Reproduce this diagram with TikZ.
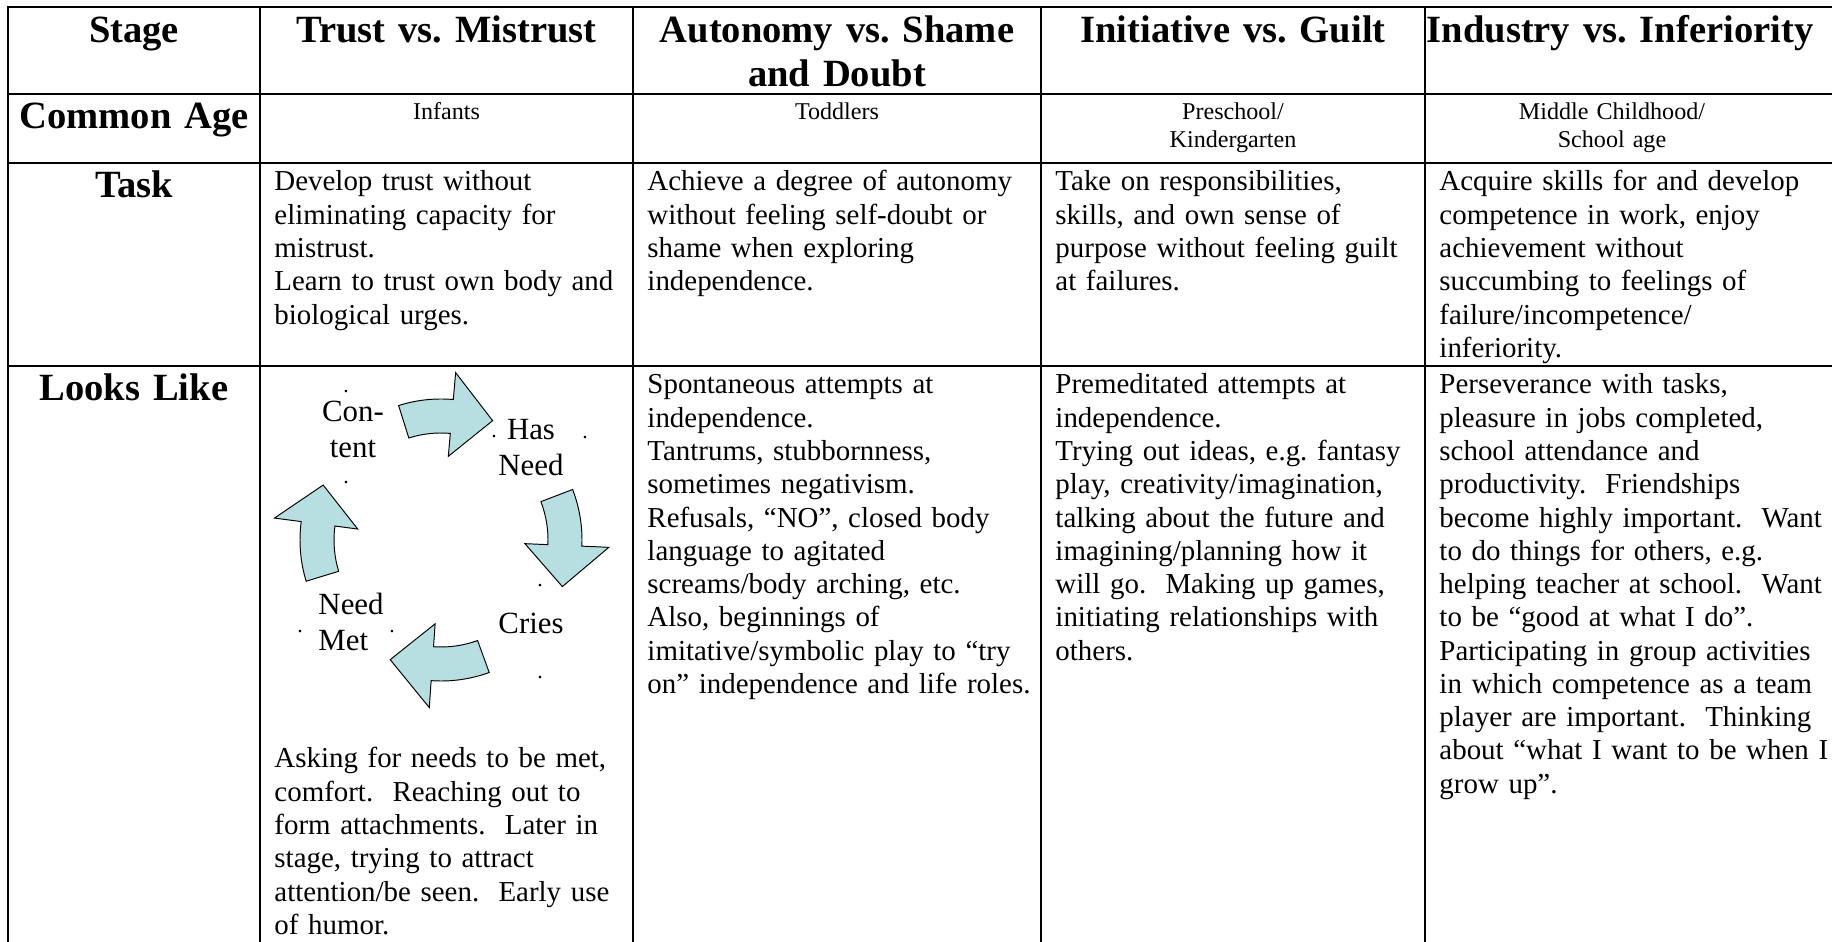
\documentclass[tikz,border=0pt]{standalone}
\usepackage{fontspec}
\setmainfont{Liberation Serif}
\definecolor{arrowblue}{HTML}{B7DEE0}
\frenchspacing
\begin{document}
\begin{tikzpicture}[x=0.415pt,y=-0.415pt,
  grid/.style={line width=0.8pt, draw=black},
  hdr/.style={font=\fontsize{16}{18}\selectfont\bfseries, text width=170pt, align=center, anchor=base, inner sep=0pt},
  body/.style={font=\fontsize{12}{13.8}\selectfont, text width=175pt, align=left, anchor=base west, inner sep=0pt},
  age/.style={font=\fontsize{10}{11.5}\selectfont, text width=150pt, align=center, anchor=base, inner sep=0pt},
  cyc/.style={font=\fontsize{12.8}{14.7}\selectfont, inner sep=0pt, text width=60pt},
  dotlbl/.style={font=\fontsize{9}{9}\selectfont, inner sep=0pt, anchor=base},
  arr/.style={draw=black, line width=0.4pt, fill=arrowblue, line join=miter},
]
\useasboundingbox (0,0) rectangle (1832,942);
\fill[white] (0,0) rectangle (1832,942);

% table rules
\draw[grid] (8,942) -- (8,7) -- (1832,7);
\draw[grid] (8,94) -- (1832,94);
\draw[grid] (8,163) -- (1832,163);
\draw[grid] (8,366) -- (1832,366);
\foreach \x in {260,633,1041,1425} \draw[grid] (\x,7) -- (\x,942);

% header row
\node[hdr] (hStage) at (134,43) {Stage};
\node[hdr] (hTrust) at (446.5,43) {Trust vs. Mistrust};
\node[hdr] (hAuto) at (837,43) {Autonomy vs. Shame\\and Doubt};
\node[hdr] (hInit) at (1233,43) {Initiative vs. Guilt};
\node[hdr] (hInd) at (1620,43) {Industry vs. Inferiority};

% common age row
\node[hdr] (hAge) at (134,129) {Common Age};
\node[age] (aTrust) at (446.5,120) {Infants};
\node[age] (aAuto) at (837,120) {Toddlers};
\node[age] (aInit) at (1233,120) {Preschool/\\Kindergarten};
\node[age] (aInd) at (1612,120) {Middle Childhood/\\School age};

% task row
\node[hdr] (hTask) at (134,198) {Task};
\node[body] (tTrust) at (274,191) {Develop trust without\\eliminating capacity for\\mistrust.\\Learn to trust own body and\\biological urges.};
\node[body] (tAuto) at (647,191) {Achieve a degree of autonomy\\without feeling self-doubt or\\shame when exploring\\independence.};
\node[body] (tInit) at (1055,191) {Take on responsibilities,\\skills, and own sense of\\purpose without feeling guilt\\at failures.};
\node[body] (tInd) at (1439,191) {Acquire skills for and develop\\competence in work, enjoy\\achievement without\\succumbing to feelings of\\failure/incompetence/\\inferiority.};

% looks like row
\node[hdr] (hLooks) at (134,401) {Looks Like};
\node[body] (lAuto) at (647,394) {Spontaneous attempts at\\independence.\\Tantrums, stubbornness,\\sometimes negativism.\\Refusals, “NO”, closed body\\language to agitated\\screams/body arching, etc.\\Also, beginnings of\\imitative/symbolic play to “try\\on” independence and life roles.};
\node[body] (lInit) at (1055,394) {Premeditated attempts at\\independence.\\Trying out ideas, e.g. fantasy\\play, creativity/imagination,\\talking about the future and\\imagining/planning how it\\will go.\ \ Making up games,\\initiating relationships with\\others.};
\node[body] (lInd) at (1439,394) {Perseverance with tasks,\\pleasure in jobs completed,\\school attendance and\\productivity.\ \ Friendships\\become highly important.\ \ Want\\to do things for others, e.g.\\helping teacher at school.\ \ Want\\to be “good at what I do”.\\Participating in group activities\\in which competence as a team\\player are important.\ \ Thinking\\about “what I want to be when I\\grow up”.};
\node[body] (lTrust) at (274,768) {Asking for needs to be met,\\comfort.\ \ Reaching out to\\form attachments.\ \ Later in\\stage, trying to attract\\attention/be seen.\ \ Early use\\of humor.};

% cycle arrows
\begin{scope}[shift={(441,540)}]
  \def\rO{141}\def\rI{107}\def\rHo{168}\def\rHi{84}\def\rT{130}
  \foreach \T/\H/\P/\nm in {107.5/85/66.6/arA, 21/-2.5/-21/arB, -70/-94/-113/arC, 197/172.5/155/arD}{
    \draw[arr] (-\T:\rO) arc[start angle=-\T, end angle=-\H, radius=\rO]
      -- (-\H:\rHo) -- (-\P:\rT) -- (-\H:\rHi) -- (-\H:\rI)
      arc[start angle=-\H, end angle=-\T, radius=\rI] -- cycle;
  }
\end{scope}

% cycle labels
\node[cyc, align=center, anchor=base] (cContent) at (353,422) {Con-\\tent};
\node[cyc, align=center, anchor=base] (cHas) at (531,440) {Has\\Need};
\node[cyc, align=center, anchor=base] (cCries) at (531,634) {Cries};
\node[cyc, align=left, anchor=base west] (cMet) at (318,615) {Need\\Met};

% stray dots
\node[dotlbl] (d1) at (346,393) {.};
\node[dotlbl] (d2) at (346,484) {.};
\node[dotlbl] (d3) at (494,438) {.};
\node[dotlbl] (d4) at (585,439) {.};
\node[dotlbl] (d5) at (540,587) {.};
\node[dotlbl] (d6) at (540,679) {.};
\node[dotlbl] (d7) at (300,633) {.};
\node[dotlbl] (d8) at (392,633) {.};
\end{tikzpicture}
\end{document}
